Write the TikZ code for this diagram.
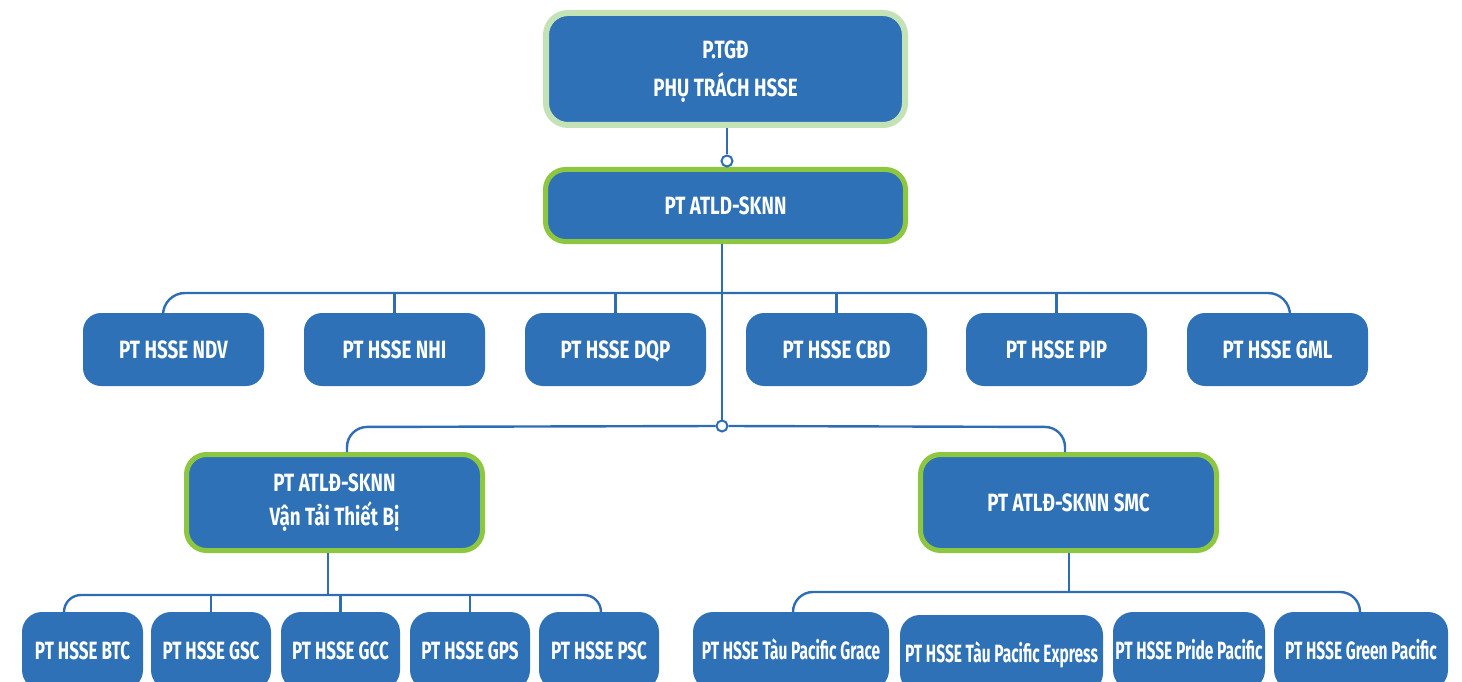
\documentclass[tikz,border=0pt]{standalone}
\usepackage{fontspec}
\setmainfont{Fira Sans}[FakeStretch=0.75]
\newfontfamily\fbl{Fira Sans}[FakeStretch=0.68]
\newfontfamily\fbr{Fira Sans}[FakeStretch=0.62]
\usetikzlibrary{calc}
\definecolor{boxblue}{HTML}{2E71B7}
\definecolor{lineblue}{HTML}{2E6DB4}
\definecolor{brdgreen}{HTML}{8DC63F}
\definecolor{palegreen}{HTML}{C3E2B6}
\tikzset{
  base/.style={fill=boxblue, text=white, font=\bfseries\fontsize{25}{30}\selectfont, align=center, inner sep=0pt},
  one/.style={text height=17pt, text depth=0pt},
  topbox/.style={base, draw=palegreen, line width=6pt, rounded corners=22pt},
  greenbox/.style={base, draw=brdgreen, line width=5pt, rounded corners=20pt},
  midbox/.style={base, one, rounded corners=18pt, minimum width=181pt, minimum height=73pt},
  botbox/.style={base, one, rounded corners=20pt, minimum height=78pt},
  blbox/.style={botbox, font=\fbl\bfseries\fontsize{25}{30}\selectfont},
  brbox/.style={botbox, font=\fbr\bfseries\fontsize{25}{30}\selectfont},
  conn/.style={draw=lineblue, line width=2.4pt},
  joint/.style={circle, draw=lineblue, fill=white, line width=2pt, minimum size=11pt, inner sep=0pt},
}
\begin{document}
\begin{tikzpicture}[x=1pt,y=-1pt]
\useasboundingbox (0,0) rectangle (1462,682);
\clip (0,0) rectangle (1462,682);
% top boxes
\node[topbox, text depth=0pt, minimum width=359pt, minimum height=112pt] (top) at (725.5,69) {P.TGĐ\\[8pt]PHỤ TRÁCH HSSE};
\node[greenbox, one, minimum width=360pt, minimum height=72pt] (atld) at (725.5,205.5) {PT ATLD-SKNN};
% middle row
\node[midbox] (ndv) at (173.5,349.5) {PT HSSE NDV};
\node[midbox] (nhi) at (394.5,349.5) {PT HSSE NHI};
\node[midbox] (dqp) at (615.5,349.5) {PT HSSE DQP};
\node[midbox] (cbd) at (836.5,349.5) {PT HSSE CBD};
\node[midbox] (pip) at (1056.5,349.5) {PT HSSE PIP};
\node[midbox] (gml) at (1277.5,349.5) {PT HSSE GML};
% second level
\node[greenbox, minimum width=296pt, minimum height=96pt] (vt) at (334.5,502.5) {PT ATLĐ-SKNN\\[4pt]Vận Tải Thiết Bị};
\node[greenbox, one, minimum width=296pt, minimum height=96pt] (smc) at (1068.5,502.5) {PT ATLĐ-SKNN SMC};
% bottom left
\node[blbox, minimum width=121pt] (btc) at (82.5,651) {PT HSSE BTC};
\node[blbox, minimum width=120pt] (gsc) at (211,651) {PT HSSE GSC};
\node[blbox, minimum width=119pt] (gcc) at (340.5,651) {PT HSSE GCC};
\node[blbox, minimum width=120pt] (gps) at (470,651) {PT HSSE GPS};
\node[blbox, minimum width=120pt] (psc) at (599,651) {PT HSSE PSC};
% bottom right
\node[brbox, minimum width=196pt] (grace) at (791,651) {PT HSSE Tàu Pacific Grace};
\node[brbox, minimum width=203pt] (express) at (1001.5,654) {PT HSSE Tàu Pacific Express};
\node[brbox, minimum width=152pt] (pride) at (1189,651) {PT HSSE Pride Pacific};
\node[brbox, minimum width=174pt] (green) at (1361,651) {PT HSSE Green Pacific};
% joints
\node[joint] (j1) at (727,161) {};
\node[joint] (j2) at (722,426) {};
% bus coordinates
\coordinate (b1L) at (163,293);
\coordinate (b1R) at (1290,293);
\coordinate (b2L) at (347,427);
\coordinate (b2R) at (1065,427);
\coordinate (b3L) at (64,595);
\coordinate (b3R) at (601,595);
\coordinate (b4L) at (793,592);
\coordinate (b4R) at (1360,592);
% connectors
\draw[conn] (top.south -| j1) -- (j1.north);
\draw[conn] (atld.south -| j2) -- (j2.north);
\draw[conn, rounded corners=22pt] (ndv.north -| b1L) -- (b1L) -- (b1R) -- (gml.north -| b1R);
\foreach \n in {nhi,dqp,cbd,pip} \draw[conn] (\n.north) -- (\n.north |- b1L);
\draw[conn, rounded corners=20pt] (vt.north -| b2L) -- (b2L) -- (j2.west);
\draw[conn, rounded corners=20pt] (j2.east) -- (b2R) -- (smc.north -| b2R);
\draw[conn] (vt.south -| 328,0) -- (328,595);
\draw[conn, rounded corners=17pt] (btc.north -| b3L) -- (b3L) -- (b3R) -- (psc.north -| b3R);
\foreach \n in {gsc,gcc,gps} \draw[conn] (\n.north) -- (\n.north |- b3L);
\draw[conn] (smc.south -| 1069,0) -- (1069,592);
\draw[conn, rounded corners=20pt] (grace.north -| b4L) -- (b4L) -- (b4R) -- (green.north -| b4R);
\end{tikzpicture}
\end{document}
